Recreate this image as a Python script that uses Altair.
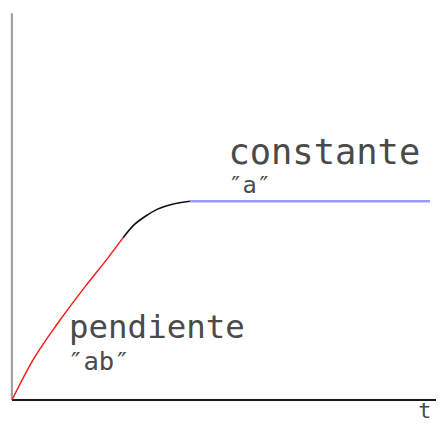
import altair as alt
import pandas as pd

# curve segments (x, y in plot units; origin bottom-left)
red_x = [0, 21, 48, 75, 98, 113]
red_y = [0, 40, 80, 116, 145, 165]
black_x = [113, 123, 136, 148, 163, 181]
black_y = [165, 177, 187, 194, 199, 202]
blue_x = [181, 425]
blue_y = [202, 202]

labels = ["constante", "″a″", "pendiente", "″ab″", "t"]
label_x = [220, 220, 58, 57, 413]
label_y = [240, 210, 63, 30, -18]
label_size = [36, 24, 33, 26, 22]

W, H = 431, 393

xs = alt.Scale(domain=[0, W], nice=False, zero=False)
ys = alt.Scale(domain=[0, H], nice=False, zero=False)
X = lambda f: alt.X(f, type="quantitative", scale=xs, axis=None)
Y = lambda f: alt.Y(f, type="quantitative", scale=ys, axis=None)


def seg_chart(xv, yv, color, width):
    df = pd.DataFrame({"x": xv, "y": yv, "o": list(range(len(xv)))})
    return alt.Chart(df).mark_line(color=color, strokeWidth=width, interpolate="monotone").encode(
        x=X("x"), y=Y("y"), order=alt.Order("o:Q"))


red = seg_chart(red_x, red_y, "#ff1a1a", 1.5)
black = seg_chart(black_x, black_y, "#111111", 1.6)
blue = seg_chart(blue_x, blue_y, "#9c9cff", 2.4)

yaxis = alt.Chart(pd.DataFrame({"x": [0], "y": [0], "y2": [H]})).mark_rule(
    color="#a0a0a0", strokeWidth=2.2).encode(x=X("x"), y=Y("y"), y2="y2:Q")
xaxis = alt.Chart(pd.DataFrame({"x": [0], "x2": [W], "y": [0]})).mark_rule(
    color="#1a1a1a", strokeWidth=2).encode(x=X("x"), x2="x2:Q", y=Y("y"))

texts = []
for lab, lx, ly, ls in zip(labels, label_x, label_y, label_size):
    tdf = pd.DataFrame({"label": [lab], "x": [lx], "y": [ly]})
    texts.append(alt.Chart(tdf).mark_text(align="left", baseline="alphabetic",
                                          font="DejaVu Sans Mono", fontSize=ls,
                                          color="#4a4a4a").encode(
        x=X("x"), y=Y("y"), text="label:N"))

chart = alt.layer(yaxis, xaxis, red, black, blue, *texts).properties(
    width=W, height=H,
    autosize=alt.AutoSizeParams(type="none"),
    padding={"left": 4, "top": 2, "right": 0, "bottom": 24},
).configure_view(strokeWidth=0)

chart.save("out.html", embed_options={"renderer": "svg", "actions": False})
